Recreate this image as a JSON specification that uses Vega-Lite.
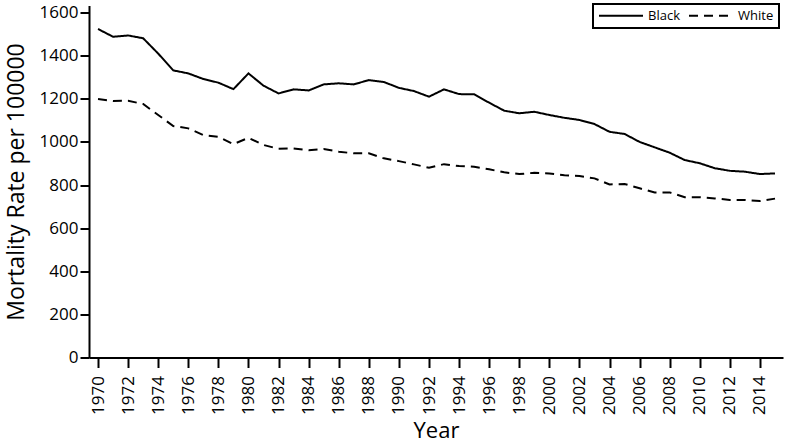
{
  "$schema": "https://vega.github.io/schema/vega-lite/v6.json",
  "width": 694,
  "height": 352,
  "autosize": {"type": "none"},
  "padding": {"left": 89, "top": 5.5, "right": 2, "bottom": 90.5},
  "background": "white",
  "config": {
    "view": {"stroke": null},
    "font": "Open Sans",
    "axis": {"domainColor": "black", "domainWidth": 2, "tickColor": "black", "tickWidth": 2, "labelColor": "black", "titleColor": "black", "grid": false, "labelFont": "Open Sans", "titleFont": "Open Sans", "titleFontWeight": "normal"}
  },
  "datasets": {
    "rates": [
      {"Year": 1970, "Group": "Black", "Rate": 1524}, {"Year": 1971, "Group": "Black", "Rate": 1488},
      {"Year": 1972, "Group": "Black", "Rate": 1494}, {"Year": 1973, "Group": "Black", "Rate": 1481},
      {"Year": 1974, "Group": "Black", "Rate": 1410}, {"Year": 1975, "Group": "Black", "Rate": 1332},
      {"Year": 1976, "Group": "Black", "Rate": 1318}, {"Year": 1977, "Group": "Black", "Rate": 1292},
      {"Year": 1978, "Group": "Black", "Rate": 1275}, {"Year": 1979, "Group": "Black", "Rate": 1245},
      {"Year": 1980, "Group": "Black", "Rate": 1318}, {"Year": 1981, "Group": "Black", "Rate": 1261},
      {"Year": 1982, "Group": "Black", "Rate": 1225}, {"Year": 1983, "Group": "Black", "Rate": 1244},
      {"Year": 1984, "Group": "Black", "Rate": 1239}, {"Year": 1985, "Group": "Black", "Rate": 1267},
      {"Year": 1986, "Group": "Black", "Rate": 1272}, {"Year": 1987, "Group": "Black", "Rate": 1267},
      {"Year": 1988, "Group": "Black", "Rate": 1287}, {"Year": 1989, "Group": "Black", "Rate": 1278},
      {"Year": 1990, "Group": "Black", "Rate": 1251}, {"Year": 1991, "Group": "Black", "Rate": 1236},
      {"Year": 1992, "Group": "Black", "Rate": 1210}, {"Year": 1993, "Group": "Black", "Rate": 1244},
      {"Year": 1994, "Group": "Black", "Rate": 1222}, {"Year": 1995, "Group": "Black", "Rate": 1221},
      {"Year": 1996, "Group": "Black", "Rate": 1182}, {"Year": 1997, "Group": "Black", "Rate": 1145},
      {"Year": 1998, "Group": "Black", "Rate": 1133}, {"Year": 1999, "Group": "Black", "Rate": 1140},
      {"Year": 2000, "Group": "Black", "Rate": 1125}, {"Year": 2001, "Group": "Black", "Rate": 1112},
      {"Year": 2002, "Group": "Black", "Rate": 1102}, {"Year": 2003, "Group": "Black", "Rate": 1083},
      {"Year": 2004, "Group": "Black", "Rate": 1047}, {"Year": 2005, "Group": "Black", "Rate": 1037},
      {"Year": 2006, "Group": "Black", "Rate": 1000}, {"Year": 2007, "Group": "Black", "Rate": 975},
      {"Year": 2008, "Group": "Black", "Rate": 950}, {"Year": 2009, "Group": "Black", "Rate": 916},
      {"Year": 2010, "Group": "Black", "Rate": 901}, {"Year": 2011, "Group": "Black", "Rate": 878},
      {"Year": 2012, "Group": "Black", "Rate": 866}, {"Year": 2013, "Group": "Black", "Rate": 862},
      {"Year": 2014, "Group": "Black", "Rate": 851}, {"Year": 2015, "Group": "Black", "Rate": 854},
      {"Year": 1970, "Group": "White", "Rate": 1199}, {"Year": 1971, "Group": "White", "Rate": 1190},
      {"Year": 1972, "Group": "White", "Rate": 1191}, {"Year": 1973, "Group": "White", "Rate": 1176},
      {"Year": 1974, "Group": "White", "Rate": 1125}, {"Year": 1975, "Group": "White", "Rate": 1074},
      {"Year": 1976, "Group": "White", "Rate": 1063}, {"Year": 1977, "Group": "White", "Rate": 1032},
      {"Year": 1978, "Group": "White", "Rate": 1024}, {"Year": 1979, "Group": "White", "Rate": 990},
      {"Year": 1980, "Group": "White", "Rate": 1019}, {"Year": 1981, "Group": "White", "Rate": 986},
      {"Year": 1982, "Group": "White", "Rate": 968}, {"Year": 1983, "Group": "White", "Rate": 970},
      {"Year": 1984, "Group": "White", "Rate": 962}, {"Year": 1985, "Group": "White", "Rate": 967},
      {"Year": 1986, "Group": "White", "Rate": 955}, {"Year": 1987, "Group": "White", "Rate": 947},
      {"Year": 1988, "Group": "White", "Rate": 947}, {"Year": 1989, "Group": "White", "Rate": 924},
      {"Year": 1990, "Group": "White", "Rate": 911}, {"Year": 1991, "Group": "White", "Rate": 896},
      {"Year": 1992, "Group": "White", "Rate": 880}, {"Year": 1993, "Group": "White", "Rate": 897},
      {"Year": 1994, "Group": "White", "Rate": 888}, {"Year": 1995, "Group": "White", "Rate": 885},
      {"Year": 1996, "Group": "White", "Rate": 873}, {"Year": 1997, "Group": "White", "Rate": 859},
      {"Year": 1998, "Group": "White", "Rate": 851}, {"Year": 1999, "Group": "White", "Rate": 857},
      {"Year": 2000, "Group": "White", "Rate": 854}, {"Year": 2001, "Group": "White", "Rate": 846},
      {"Year": 2002, "Group": "White", "Rate": 842}, {"Year": 2003, "Group": "White", "Rate": 831},
      {"Year": 2004, "Group": "White", "Rate": 803}, {"Year": 2005, "Group": "White", "Rate": 805},
      {"Year": 2006, "Group": "White", "Rate": 785}, {"Year": 2007, "Group": "White", "Rate": 766},
      {"Year": 2008, "Group": "White", "Rate": 766}, {"Year": 2009, "Group": "White", "Rate": 744},
      {"Year": 2010, "Group": "White", "Rate": 744}, {"Year": 2011, "Group": "White", "Rate": 738},
      {"Year": 2012, "Group": "White", "Rate": 731}, {"Year": 2013, "Group": "White", "Rate": 731},
      {"Year": 2014, "Group": "White", "Rate": 726}, {"Year": 2015, "Group": "White", "Rate": 737}
    ]
  },
  "data": {"name": "rates"},
  "mark": {"type": "line", "color": "black", "strokeWidth": 2},
  "encoding": {
    "x": {
      "field": "Year", "type": "quantitative",
      "scale": {"domain": [1969.4, 2015.53], "nice": false, "zero": false},
      "axis": {
        "title": "Year", "titleFontSize": 22, "titlePadding": 6,
        "values": [1970, 1972, 1974, 1976, 1978, 1980, 1982, 1984, 1986, 1988, 1990, 1992, 1994, 1996, 1998, 2000, 2002, 2004, 2006, 2008, 2010, 2012, 2014],
        "format": "d", "labelAngle": 270, "labelFontSize": 17, "tickSize": 10, "labelPadding": 8, "labelFlush": false, "labelOverlap": false
      }
    },
    "y": {
      "field": "Rate", "type": "quantitative",
      "scale": {"domain": [0, 1633], "nice": false},
      "axis": {
        "title": "Mortality Rate per 100000", "titleFontSize": 23, "titlePadding": 11,
        "values": [0, 200, 400, 600, 800, 1000, 1200, 1400, 1600],
        "format": "d", "labelFontSize": 17, "tickSize": 9, "labelPadding": 2, "labelFlush": false, "labelOverlap": false
      }
    },
    "strokeDash": {
      "field": "Group", "type": "nominal",
      "scale": {"domain": ["Black", "White"], "range": [[1, 0], [9, 6]]},
      "legend": {
        "title": null, "orient": "none", "direction": "horizontal",
        "legendX": 504, "legendY": -1.5,
        "strokeColor": "black", "padding": 5,
        "symbolType": "M-1,0L7,0", "symbolSize": 121, "symbolStrokeWidth": 2, "symbolStrokeColor": "black",
        "labelFontSize": 13, "labelFont": "Open Sans", "labelColor": "black", "labelOffset": 37, "columnPadding": 5,
        "encode": {"legend": {"update": {"strokeWidth": {"value": 2}}}}
      }
    }
  }
}
